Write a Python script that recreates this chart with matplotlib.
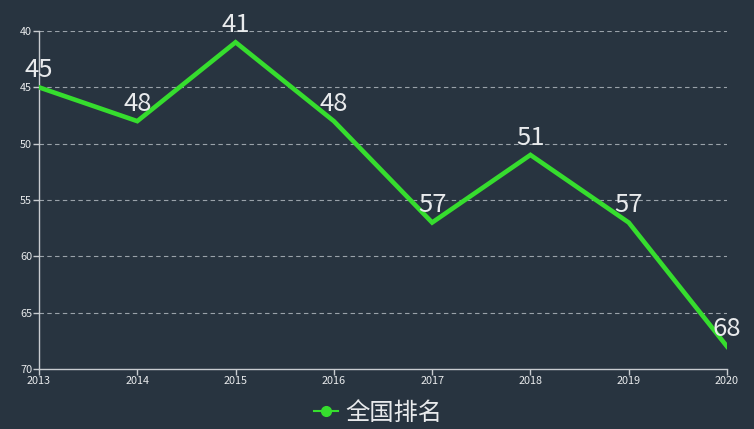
import matplotlib
matplotlib.use("Agg")
import matplotlib.pyplot as plt
from matplotlib.lines import Line2D

plt.rcParams['font.family'] = ['Noto Sans CJK SC', 'DejaVu Sans']

years = [2013, 2014, 2015, 2016, 2017, 2018, 2019, 2020]
ranks = [45, 48, 41, 48, 57, 51, 57, 68]
series_name = "全国排名"
y_ticks = [40, 45, 50, 55, 60, 65, 70]

bg = '#283440'
green = '#36dd2e'
axis_col = '#c8ccd0'
text_col = '#e8eaec'

fig = plt.figure(figsize=(7.54, 4.29), dpi=100, facecolor=bg)
ax = fig.add_axes([39/754, 1-369/429, (727-39)/754, (369-31)/429])
ax.set_facecolor(bg)

ax.plot(years, ranks, color=green, linewidth=3.3, solid_joinstyle='miter', zorder=3)
for x, y in zip(years, ranks):
    ax.annotate(str(y), (x, y), xytext=(0, 7.5), textcoords='offset points',
                ha='center', va='baseline', color=text_col, fontsize=18.5, zorder=4)

ax.set_xlim(2013, 2020)
ax.set_ylim(70, 40)
ax.set_xticks(years)
ax.set_xticklabels([str(y) for y in years])
ax.set_yticks(y_ticks)
for t in y_ticks:
    if t != 70:
        ax.axhline(t, color='#9aa2aa', linewidth=0.8, linestyle=(0, (4, 3)), zorder=1)

for s in ['top', 'right']:
    ax.spines[s].set_visible(False)
for s in ['left', 'bottom']:
    ax.spines[s].set_color(axis_col)
    ax.spines[s].set_linewidth(1)
ax.tick_params(axis='both', colors=axis_col, labelcolor=text_col, labelsize=7.8, length=4, width=1, pad=1)

handle = Line2D([0], [0], color=green, linewidth=1.5, marker='o', markersize=7)
leg = fig.legend([handle], [series_name], loc='center', bbox_to_anchor=(378/754, 1-413/429),
                 frameon=False, fontsize=17.5, handlelength=1.0, handletextpad=0.3)
for t in leg.get_texts():
    t.set_color(text_col)

fig.savefig('out.png', dpi=100, facecolor=bg)
